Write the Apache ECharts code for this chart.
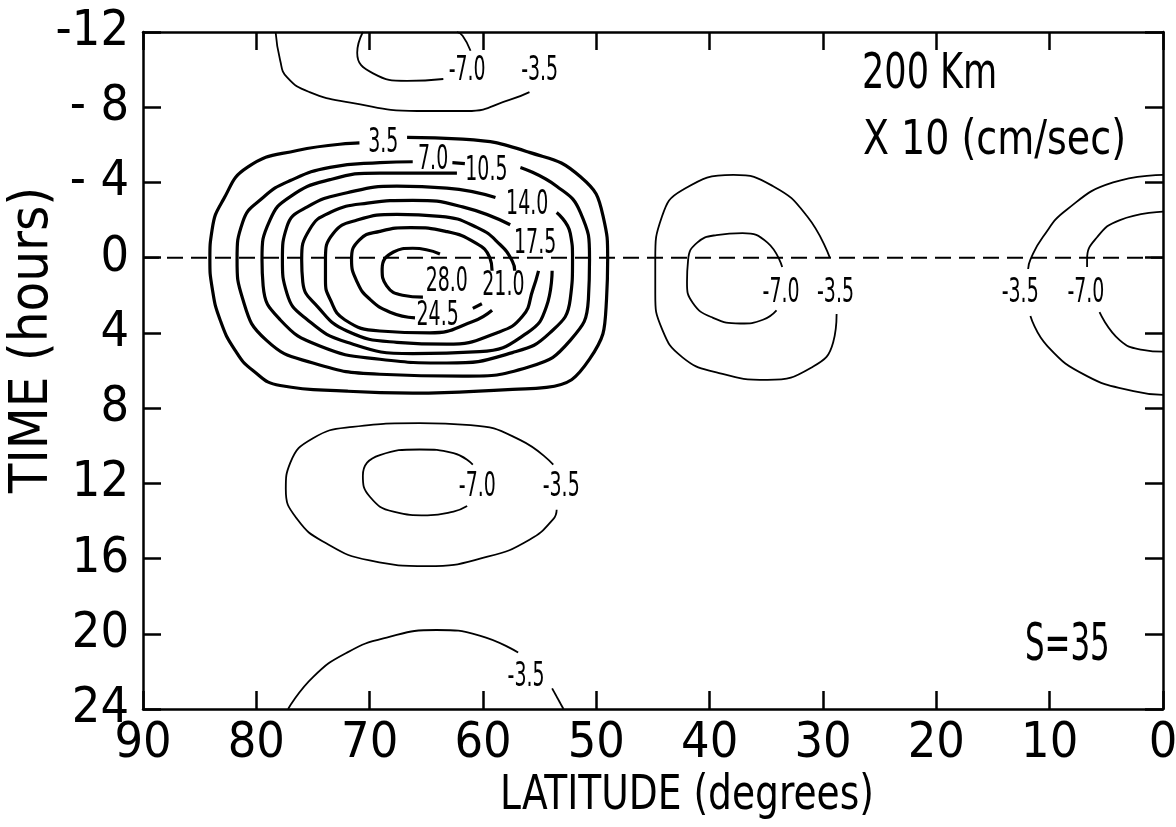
<!DOCTYPE html>
<html>
<head>
<meta charset="utf-8">
<script src="https://cdn.jsdelivr.net/npm/echarts@6/dist/echarts.min.js"></script>
<style>
  html, body { margin: 0; background: #fff; }
  #chart { width: 1176px; height: 827px; }
</style>
</head>
<body>
<div id="chart"></div>
<script>
// axis ticks
const xTicks = [0, 10, 20, 30, 40, 50, 60, 70, 80, 90]
const yTicks = [-12, -8, -4, 0, 4, 8, 12, 16, 20, 24]
const yTickLabels = ['-12', '- 8', '- 4', '0', '4', '8', '12', '16', '20', '24']

// contours, points are [latitude, time]
// positive eddy (thick lines)
const pos35 = [[66.7,-6.4],[61.8,-6.3],[55.9,-5.6],[51.4,-4.3],[49.4,-2.2],[49.0,0.1],[49.1,2.2],[50.6,5.4],[54.4,6.9],[57.4,7.0],[66.2,7.2],[72.0,7.1],[77.9,6.8],[80.3,6.0],[81.9,4.9],[83.2,3.3],[83.9,1.6],[84.1,0.1],[83.9,-1.5],[82.9,-3.1],[80.8,-4.8],[76.4,-5.7],[70.9,-6.1]]
const pos70 = [[56.7,-4.8],[53.5,-3.8],[51.4,-2.4],[50.6,0.1],[50.7,2.2],[52.3,4.4],[55.9,5.8],[61.8,6.3],[69.1,6.2],[75.0,5.6],[79.1,4.4],[81.2,2.2],[81.7,0.1],[81.2,-1.9],[79.4,-3.2],[77.0,-4.1],[73.5,-4.8],[69.1,-5.05],[66.2,-5.1]]
const pos70dash = [[62.7,-5.05],[61.6,-5.0]]
const pos105 = [[53.5,-2.4],[52.3,-1.3],[52.1,0.1],[52.3,2.2],[54.1,4.0],[57.4,5.05],[63.2,5.6],[69.1,5.4],[74.4,4.7],[77.9,3.3],[79.4,1.5],[79.5,0.1],[78.8,-2.0],[77.0,-3.25],[73.5,-4.15],[69.1,-4.5],[62.3,-4.5]]
const pos140 = [[53.9,0.7],[54.4,2.6],[56.1,4.0],[60.3,5.0],[66.2,5.1],[72.0,4.5],[75.5,3.3],[77.3,1.9],[77.7,0.1],[77.3,-1.65],[75.5,-2.7],[72.0,-3.45],[67.6,-3.8],[63.2,-3.7],[58.9,-3.2]]
const pos175 = [[55.1,0.7],[55.6,1.7],[56.5,3.1],[58.8,4.0],[63.2,4.6],[67.6,4.5],[72.0,3.9],[74.6,2.6],[75.9,1.3],[76.0,0.1],[75.3,-1.5],[73.5,-2.4],[70.2,-2.9],[66.2,-3.05],[61.8,-2.7],[57.6,-1.75]]
const pos210 = [[59.2,2.8],[60.9,3.4],[64.7,4.0],[69.1,3.9],[72.2,3.3],[73.5,2.2],[73.9,1.2],[73.9,0.1],[73.2,-1.3],[71.1,-2.0],[67.6,-2.3],[63.8,-2.2],[60.5,-1.6],[58.5,-0.7],[57.4,0.2],[57.2,0.7]]
const pos245 = [[66.0,3.2],[68.2,2.9],[70.0,2.2],[71.1,1.3],[71.6,0.1],[70.9,-0.95],[69.1,-1.4],[66.4,-1.6],[63.3,-1.4],[60.7,-0.8],[59.4,0],[59.2,0.7]]
const pos245dash = [[60.9,2.7],[60.1,2.45]]
const pos280 = [[63.8,-0.2],[66.2,-0.5],[67.9,-0.3],[68.9,0.6],[68.5,1.5],[67.1,2.0],[65.3,2.1]]

// negative cells (thin lines)
const topNeg35 = [[78.3,-12],[77.9,-10.5],[77.3,-9.6],[75.3,-8.8],[71.7,-8.25],[65.8,-7.8],[61.4,-7.8],[57.6,-8.4],[55.9,-8.8]]
const topNeg70a = [[70.6,-12],[71.1,-10.9],[69.7,-9.8],[66.7,-9.4],[63.5,-9.5]]
const topNeg70b = [[61.1,-11.0],[61.8,-11.8],[62.3,-12]]
const midNeg35 = [[29.4,0],[31.4,-2.2],[34.4,-3.8],[37.9,-4.4],[42.4,-3.6],[44.2,-2.2],[44.8,0.1],[44.8,1.9],[44.2,3.8],[42.4,5.3],[39.4,6.1],[34.9,6.5],[30.9,5.8],[29.1,4.5],[28.8,3.0]]
const midNeg70 = [[33.6,0.5],[34.9,-0.8],[37.1,-1.3],[39.4,-1.2],[41.1,-0.8],[41.9,0.1],[42.0,1.3],[41.5,2.4],[39.7,3.2],[37.3,3.5],[35.3,3.3],[34.1,2.8]]
const rightNeg35a = [[0,-4.4],[4.4,-4.0],[8.5,-2.55],[10.6,-1.1],[11.7,0.1],[11.9,0.6]]
const rightNeg35b = [[11.7,3.1],[10.2,4.7],[6.7,6.3],[2.6,7.1],[0,7.3]]
const rightNeg70a = [[0,-2.45],[3.8,-2.0],[5.8,-1.1],[6.7,0.1],[6.7,0.5]]
const rightNeg70b = [[5.6,2.9],[3.8,4.4],[1.8,4.9],[0,5.0]]
const lowNeg35 = [[53.8,11.0],[56.7,9.7],[61.1,8.9],[65.6,8.8],[71.5,9.0],[75.0,9.6],[77.0,10.9],[77.4,12.3],[76.4,13.9],[73.8,15.2],[70.0,16.1],[64.9,16.4],[59.6,15.9],[55.9,15.0],[53.8,13.9],[53.5,13.4]]
const lowNeg70 = [[60.9,11.0],[62.6,10.4],[65.6,10.2],[69.1,10.5],[70.6,11.6],[70.0,12.7],[67.9,13.5],[64.9,13.7],[62.6,13.5],[61.4,13.2]]
const botNeg35a = [[77.2,24],[75.0,22.3],[72.0,21.0],[68.5,20.2],[64.1,19.8],[60.3,20.1],[56.9,21.0]]
const botNeg35b = [[53.9,22.9],[52.9,24]]

// time = 0 reference line
const zeroLine = [[90,0],[0,0]]

// contour labels [latitude, time, text]
const contourLabels = [
  [68.8,-6.1,'3.5'], [64.4,-5.2,'7.0'], [59.7,-4.6,'10.5'], [56.1,-2.8,'14.0'],
  [55.4,-0.7,'17.5'], [58.2,1.5,'21.0'], [64.0,3.1,'24.5'], [63.2,1.3,'28.0'],
  [61.4,-9.9,'-7.0'], [55.0,-9.9,'-3.5'],
  [33.7,1.9,'-7.0'], [28.9,1.9,'-3.5'],
  [12.6,1.9,'-3.5'], [6.8,1.9,'-7.0'],
  [60.5,12.2,'-7.0'], [53.1,12.2,'-3.5'],
  [56.2,22.3,'-3.5']
]

const FONT = "'DejaVu Sans Condensed', 'DejaVu Sans', sans-serif"

const posLines = [pos35, pos70, pos70dash, pos105, pos140, pos175, pos210, pos245, pos245dash, pos280]
const negLines = [topNeg35, topNeg70a, topNeg70b, midNeg35, midNeg70, rightNeg35a, rightNeg35b,
  rightNeg70a, rightNeg70b, lowNeg35, lowNeg70, botNeg35a, botNeg35b]

function contourSeries(data, width) {
  return {
    type: 'line',
    data: data,
    smooth: 0.5,
    symbol: 'none',
    silent: true,
    lineStyle: { color: '#000', width: width },
    z: 3
  }
}

const series = []
posLines.forEach(d => series.push(contourSeries(d, 3.2)))
negLines.forEach(d => series.push(contourSeries(d, 1.8)))

series.push({
  type: 'line',
  data: zeroLine,
  symbol: 'none',
  silent: true,
  lineStyle: { color: '#000', width: 2, type: [16, 8] },
  z: 2
})

const axisLine = { show: true, onZero: false, lineStyle: { color: '#000', width: 2.5 } }
const axisTick = { show: true, inside: true, length: 18, lineStyle: { color: '#000', width: 2.5 } }

// fixed annotations (condensed lettering via scaleX)
const notes = [
  { type: 'text', x: 500, y: 773, scaleX: 0.87, style: { text: 'LATITUDE (degrees)', font: '48px ' + FONT, fill: '#000', verticalAlign: 'top' } },
  { type: 'text', x: 6, y: 340, rotation: Math.PI / 2, style: { text: 'TIME (hours)', font: '54px ' + FONT, fill: '#000', align: 'center', verticalAlign: 'top' } },
  { type: 'text', x: 862, y: 50, scaleX: 0.78, style: { text: '200 Km', font: '50px ' + FONT, fill: '#000', verticalAlign: 'top' } },
  { type: 'text', x: 863, y: 118, scaleX: 0.88, style: { text: 'X 10 (cm/sec)', font: '48px ' + FONT, fill: '#000', verticalAlign: 'top' } },
  { type: 'text', x: 1025, y: 620, scaleX: 0.66, style: { text: 'S=35', font: '52px ' + FONT, fill: '#000', verticalAlign: 'top' } }
]

const option = {
  animation: false,
  backgroundColor: '#fff',
  grid: { left: 143, right: 13, top: 32, bottom: 118, containLabel: false, outerBoundsMode: 'none' },
  xAxis: [
    {
      type: 'value', min: 0, max: 90, interval: 10, inverse: true, position: 'bottom',
      axisLine, axisTick, splitLine: { show: false },
      axisLabel: {
        show: true, showMinLabel: true, showMaxLabel: true, margin: 10,
        formatter: v => xTicks.indexOf(v) >= 0 ? String(v) : '',
        fontFamily: FONT, fontSize: 50, color: '#000'
      }
    },
    {
      type: 'value', min: 0, max: 90, interval: 10, inverse: true, position: 'top',
      axisLine, axisTick, splitLine: { show: false }, axisLabel: { show: false }
    }
  ],
  yAxis: [
    {
      type: 'value', min: -12, max: 24, interval: 4, inverse: true, position: 'left',
      axisLine, axisTick, splitLine: { show: false },
      axisLabel: {
        show: true, showMinLabel: true, showMaxLabel: true, margin: 14,
        formatter: v => yTickLabels[yTicks.indexOf(v)],
        fontFamily: FONT, fontSize: 50, color: '#000'
      }
    },
    {
      type: 'value', min: -12, max: 24, interval: 4, inverse: true, position: 'right',
      axisLine, axisTick, splitLine: { show: false }, axisLabel: { show: false }
    }
  ],
  series: series
}

const chart = echarts.init(document.getElementById('chart'))
chart.setOption(option)

// contour labels placed through the grid's own scales
const labelTexts = contourLabels.map(l => {
  const p = chart.convertToPixel({ gridIndex: 0 }, [l[0], l[1]])
  return {
    type: 'text', x: p[0], y: p[1], scaleX: 0.62, z: 10,
    style: { text: l[2], font: '34px ' + FONT, fill: '#000', align: 'center', verticalAlign: 'middle' }
  }
})
chart.setOption({ graphic: notes.concat(labelTexts) })
</script>
</body>
</html>
